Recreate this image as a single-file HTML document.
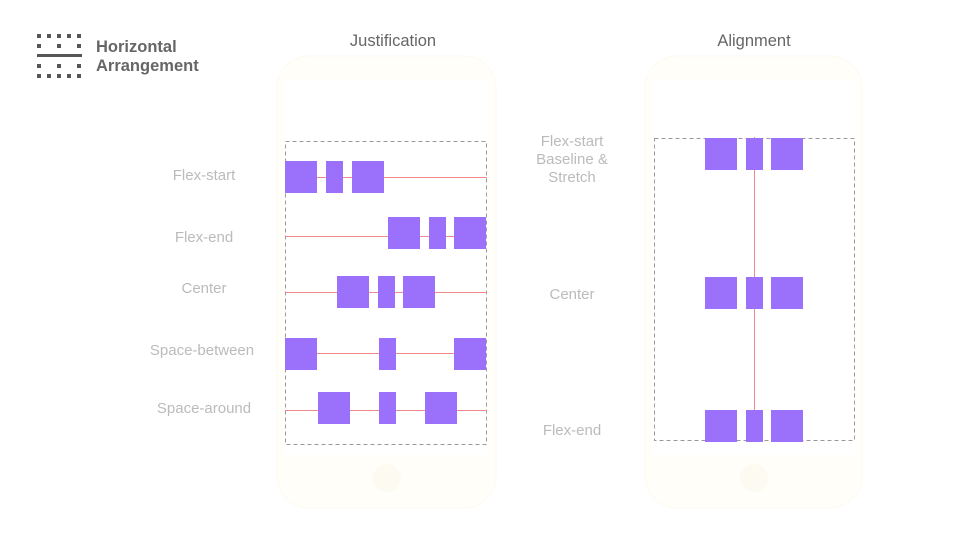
<!DOCTYPE html>
<html><head><meta charset="utf-8"><style>
html,body{margin:0;padding:0;background:#fff;width:960px;height:540px;overflow:hidden}
svg{display:block}
text{font-family:"Liberation Sans",sans-serif}
</style></head><body>
<svg width="960" height="540" viewBox="0 0 960 540" xmlns="http://www.w3.org/2000/svg">
<g fill="#555">
<rect x="37" y="34" width="4" height="4"/><rect x="47" y="34" width="4" height="4"/><rect x="57" y="34" width="4" height="4"/><rect x="67" y="34" width="4" height="4"/><rect x="77" y="34" width="4" height="4"/>
<rect x="37" y="44" width="4" height="4"/><rect x="57" y="44" width="4" height="4"/><rect x="77" y="44" width="4" height="4"/>
<rect x="37" y="54" width="45" height="3"/>
<rect x="37" y="64" width="4" height="4"/><rect x="57" y="64" width="4" height="4"/><rect x="77" y="64" width="4" height="4"/>
<rect x="37" y="74" width="4" height="4"/><rect x="47" y="74" width="4" height="4"/><rect x="57" y="74" width="4" height="4"/><rect x="67" y="74" width="4" height="4"/><rect x="77" y="74" width="4" height="4"/>
</g>
<text x="96" y="52" font-size="16.5" font-weight="bold" fill="#666">Horizontal</text>
<text x="96" y="71" font-size="16.5" font-weight="bold" fill="#666">Arrangement</text>
<text x="393" y="46" font-size="16.5" fill="#666" text-anchor="middle">Justification</text>
<text x="754" y="46" font-size="16.5" fill="#666" text-anchor="middle">Alignment</text>
<g fill="#fffef8" stroke="#fcfaf0" stroke-width="1">
<rect x="277" y="56" width="219" height="452" rx="32"/>
<rect x="645" y="56" width="217" height="452" rx="32"/>
</g>
<rect x="285" y="80" width="203" height="375" fill="#fff"/>
<rect x="653" y="80" width="203" height="375" fill="#fff"/>
<circle cx="387" cy="478" r="14" fill="#fcfaf1"/>
<circle cx="754" cy="478" r="14" fill="#fcfaf1"/>
<g fill="none" stroke="#999" stroke-dasharray="4,3">
<rect x="285.5" y="141.5" width="201" height="303"/>
<rect x="654.5" y="138.5" width="200" height="302"/>
</g>
<g stroke="#f08a8a" stroke-width="1">
<line x1="285" y1="177.5" x2="487" y2="177.5"/>
<line x1="285" y1="236.5" x2="487" y2="236.5"/>
<line x1="285" y1="292.5" x2="487" y2="292.5"/>
<line x1="285" y1="353.5" x2="487" y2="353.5"/>
<line x1="285" y1="410.5" x2="487" y2="410.5"/>
<line x1="754.5" y1="137" x2="754.5" y2="410"/>
</g>
<g fill="#9b70fb">
<rect x="285" y="161" width="32" height="32"/><rect x="326" y="161" width="17" height="32"/><rect x="352" y="161" width="32" height="32"/>
<rect x="388" y="217" width="32" height="32"/><rect x="429" y="217" width="17" height="32"/><rect x="454" y="217" width="32" height="32"/>
<rect x="337" y="276" width="32" height="32"/><rect x="378" y="276" width="17" height="32"/><rect x="403" y="276" width="32" height="32"/>
<rect x="285" y="338" width="32" height="32"/><rect x="379" y="338" width="17" height="32"/><rect x="454" y="338" width="32" height="32"/>
<rect x="318" y="392" width="32" height="32"/><rect x="379" y="392" width="17" height="32"/><rect x="425" y="392" width="32" height="32"/>
<rect x="705" y="138" width="32" height="32"/><rect x="746" y="138" width="17" height="32"/><rect x="771" y="138" width="32" height="32"/>
<rect x="705" y="277" width="32" height="32"/><rect x="746" y="277" width="17" height="32"/><rect x="771" y="277" width="32" height="32"/>
<rect x="705" y="410" width="32" height="32"/><rect x="746" y="410" width="17" height="32"/><rect x="771" y="410" width="32" height="32"/>
</g>
<g font-size="15" fill="#bbb" text-anchor="middle">
<text x="204" y="180">Flex-start</text>
<text x="204" y="242">Flex-end</text>
<text x="204" y="293">Center</text>
<text x="202" y="355">Space-between</text>
<text x="204" y="413">Space-around</text>
<text x="572" y="146">Flex-start</text>
<text x="572" y="164">Baseline &amp;</text>
<text x="572" y="182">Stretch</text>
<text x="572" y="299">Center</text>
<text x="572" y="435">Flex-end</text>
</g>
</svg>
</body></html>
